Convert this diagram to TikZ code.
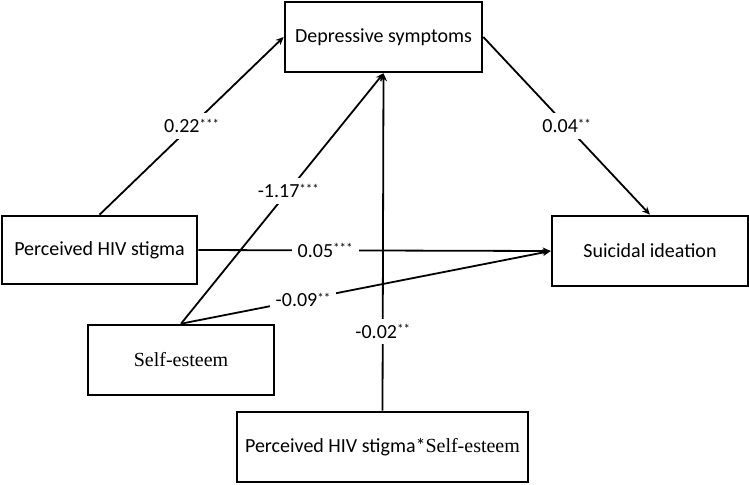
\documentclass[tikz,border=0pt]{standalone}
\usepackage{fontspec}
\setmainfont{Carlito}
\newfontfamily\timesfont{Liberation Serif}
\usetikzlibrary{arrows.meta}
\newcommand{\sig}[1]{{\fontsize{6.5}{6.5}\selectfont\raisebox{2.2pt}{#1}}}

\begin{document}
\begin{tikzpicture}[x=0.5pt,y=-0.5pt,
    box/.style={draw, line width=1.3pt, inner sep=0pt, font=\fontsize{10}{12}\selectfont},
    path/.style={line width=0.9pt, -{Stealth[length=4pt,width=3.5pt]}},
    coef/.style={fill=white, inner sep=3pt, font=\fontsize{10}{12}\selectfont}]
    \useasboundingbox (0,0) rectangle (749,484);

    % Boxes
    \node[box, minimum width=98.5pt, minimum height=35pt] (dep) at (383.5,37) {Depressive symptoms};
    \node[box, minimum width=97.5pt, minimum height=34pt] (stig) at (99.5,250) {Perceived HIV stigma};
    \node[box, minimum width=98pt, minimum height=35pt] (sui) at (650,251) {Suicidal ideation};
    \node[box, minimum width=93pt, minimum height=35pt] (self) at (181,360) {\timesfont Self-esteem};
    \node[box, minimum width=145.5pt, minimum height=35pt] (inter) at (382.5,447) {Perceived HIV stigma*{\timesfont Self-esteem}};

    % Paths
    \draw[path] (stig.north) -- node[coef, pos=0.5] {0.22\sig{***}} (dep.west);
    \draw[path] (self.north) -- node[coef, pos=0.53] {-1.17\sig{***}} (dep.south);
    \draw[path] (inter.north) -- node[coef, pos=0.235] {-0.02\sig{**}} (dep.south);
    \draw[path] (stig.east) -- node[coef, pos=0.36] {0.05\sig{***}} (sui.west);
    \draw[path] (self.north) -- node[coef, pos=0.33] {-0.09\sig{**}} (sui.west);
    \draw[path] (dep.east) -- node[coef, pos=0.5] {0.04\sig{**}} (sui.north);
\end{tikzpicture}
\end{document}
